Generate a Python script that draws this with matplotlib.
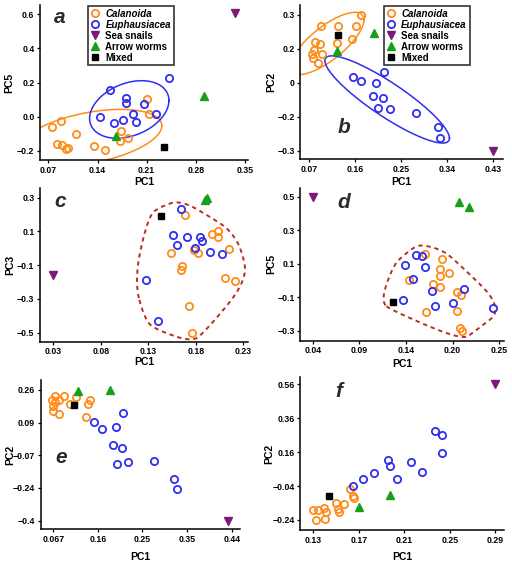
import numpy as np
import matplotlib
matplotlib.use("Agg")
import matplotlib.pyplot as plt
from matplotlib.lines import Line2D

plt.rcParams['font.family'] = ['Liberation Sans', 'DejaVu Sans']
plt.rcParams['font.weight'] = 'bold'
plt.rcParams['axes.labelweight'] = 'bold'

CAL = "#FF8C1A"
EUP = "#2E2EF2"
SNAIL = "#7B1A7B"
WORM = "#17A017"
MIX = "#000000"
RING = "#B5301F"

# ---- panel a : PC1 / PC5 ----
a_cal_x = [0.0747, 0.088, 0.082, 0.089, 0.095, 0.098, 0.110, 0.1355, 0.1507, 0.172, 0.173, 0.183, 0.211, 0.214]
a_cal_y = [-0.059, -0.024, -0.161, -0.167, -0.190, -0.182, -0.102, -0.173, -0.196, -0.141, -0.084, -0.124, 0.104, 0.014]
a_eup_x = [0.158, 0.181, 0.180, 0.143, 0.163, 0.176, 0.190, 0.195, 0.206, 0.223, 0.242]
a_eup_y = [0.157, 0.112, 0.082, -0.004, -0.035, -0.022, 0.016, -0.029, 0.075, 0.014, 0.229]
a_snail_x, a_snail_y = [0.336], [0.608]
a_worm_x, a_worm_y = [0.292, 0.166], [0.124, -0.112]
a_mix_x, a_mix_y = [0.235], [-0.180]

# ---- panel b : PC1 / PC2 ----
b_cal_x = [0.1704, 0.0922, 0.1254, 0.1613, 0.1528, 0.1235, 0.0811, 0.0909, 0.0798, 0.0759, 0.0954, 0.0778, 0.0876]
b_cal_y = [0.300, 0.2528, 0.2528, 0.2528, 0.1939, 0.1776, 0.1791, 0.1717, 0.1452, 0.1260, 0.1275, 0.1084, 0.0862]
b_eup_x = [0.2161, 0.1561, 0.1717, 0.2004, 0.1939, 0.2134, 0.2043, 0.2278, 0.2786, 0.3210, 0.3249]
b_eup_y = [0.0464, 0.0258, 0.0066, -0.0022, -0.0582, -0.0671, -0.1098, -0.1142, -0.1319, -0.1939, -0.2455]
b_snail_x, b_snail_y = [0.430], [-0.300]
b_worm_x, b_worm_y = [0.1241, 0.1965], [0.1423, 0.2189]
b_mix_x, b_mix_y = [0.1254], [0.2130]

# ---- panel c : PC1 / PC3 ----
c_cal_x = [0.1689, 0.2030, 0.1974, 0.2030, 0.2153, 0.1781, 0.1819, 0.1542, 0.1654, 0.1644, 0.2111, 0.2212, 0.1728, 0.1756]
c_cal_y = [0.1973, 0.1044, 0.0827, 0.0689, -0.0062, -0.0101, -0.0259, -0.0279, -0.1049, -0.1286, -0.1780, -0.1938, -0.3420, -0.500]
c_eup_x = [0.1647, 0.1563, 0.1707, 0.1844, 0.1868, 0.1598, 0.1791, 0.1953, 0.2072, 0.1279, 0.1398]
c_eup_y = [0.2328, 0.0788, 0.0649, 0.0689, 0.0432, 0.0195, -0.0002, -0.0200, -0.0338, -0.1879, -0.4309]
c_snail_x, c_snail_y = [0.030], [-0.158]
c_worm_x, c_worm_y = [0.1897, 0.1914], [0.2862, 0.2960]
c_mix_x, c_mix_y = [0.143], [0.193]

# ---- panel d : PC1 / PC5 ----
d_cal_x = [0.1664, 0.1855, 0.1836, 0.1836, 0.1930, 0.1488, 0.1750, 0.1836, 0.2024, 0.2073, 0.1679, 0.2020, 0.2054, 0.2084]
d_cal_y = [0.1557, 0.1259, 0.0662, 0.0264, 0.0443, 0.0005, -0.0234, -0.0373, -0.0672, -0.0890, -0.1885, -0.1846, -0.2861, -0.3040]
d_eup_x = [0.1443, 0.1563, 0.1630, 0.1668, 0.1533, 0.1739, 0.2099, 0.1983, 0.1776, 0.1416, 0.2425]
d_eup_y = [0.0901, 0.1518, 0.1438, 0.0821, 0.0065, -0.0612, -0.0492, -0.1328, -0.1527, -0.1169, -0.1667]
d_snail_x, d_snail_y = [0.040], [0.496]
d_worm_x, d_worm_y = [0.205, 0.2163], [0.466, 0.440]
d_mix_x, d_mix_y = [0.130], [-0.127]

# ---- panel e : PC1 / PC2 ----
e_cal_x = [0.0705, 0.0900, 0.0649, 0.0789, 0.0705, 0.0656, 0.0670, 0.0795, 0.1137, 0.1019, 0.1437, 0.1402, 0.1353]
e_cal_y = [0.2314, 0.2314, 0.2095, 0.2095, 0.1977, 0.1809, 0.1539, 0.1371, 0.2263, 0.1876, 0.2095, 0.1893, 0.1219]
e_eup_x = [0.1521, 0.1681, 0.1974, 0.2134, 0.1911, 0.2099, 0.2009, 0.2239, 0.2776, 0.3201, 0.3250]
e_eup_y = [0.0967, 0.0630, 0.0748, 0.1421, -0.0178, -0.0313, -0.1155, -0.1054, -0.0986, -0.1912, -0.2417]
e_snail_x, e_snail_y = [0.4316], [-0.400]
e_worm_x, e_worm_y = [0.1193, 0.1855], [0.2566, 0.2600]
e_mix_x, e_mix_y = [0.1102], [0.1842]

# ---- panel f : PC1 / PC2 ----
f_cal_x = [0.1294, 0.1338, 0.1323, 0.1391, 0.1411, 0.1405, 0.1499, 0.1520, 0.1529, 0.1573, 0.1625, 0.1652, 0.1660]
f_cal_y = [-0.1810, -0.1810, -0.2400, -0.1673, -0.1909, -0.2361, -0.1417, -0.1751, -0.1948, -0.1476, -0.0552, -0.0965, -0.1122]
f_eup_x = [0.1646, 0.1734, 0.1836, 0.1959, 0.1974, 0.2036, 0.2159, 0.2252, 0.2373, 0.2428, 0.2431]
f_eup_y = [-0.0375, -0.0002, 0.0352, 0.1158, 0.0804, -0.0002, 0.1000, 0.0450, 0.2868, 0.2612, 0.1570]
f_snail_x, f_snail_y = [0.290], [0.560]
f_worm_x, f_worm_y = [0.1704, 0.1974], [-0.1653, -0.0926]
f_mix_x, f_mix_y = [0.1441], [-0.0985]

# ticks (positions and printed labels)
a_xt, a_xl = [0.07, 0.14, 0.21, 0.28, 0.35], ["0.07", "0.14", "0.21", "0.28", "0.35"]
a_yt, a_yl = [0.6, 0.4, 0.2, 0.0, -0.2], ["0.6", "0.4", "0.2", "0.0", "\u22120.2"]
b_xt, b_xl = [0.07, 0.16, 0.25, 0.34, 0.43], ["0.07", "0.16", "0.25", "0.34", "0.43"]
b_yt, b_yl = [0.3, 0.15, 0.0, -0.15, -0.3], ["0.3", "0.2", "0", "\u22120.2", "\u22120.3"]
c_xt, c_xl = [0.03, 0.08, 0.13, 0.18, 0.23], ["0.03", "0.08", "0.13", "0.18", "0.23"]
c_yt, c_yl = [0.3, 0.1, -0.1, -0.3, -0.5], ["0.3", "0.1", "\u22120.1", "\u22120.3", "\u22120.5"]
d_xt, d_xl = [0.04, 0.0925, 0.145, 0.1975, 0.25], ["0.04", "0.09", "0.14", "0.20", "0.25"]
d_yt, d_yl = [0.5, 0.3, 0.1, -0.1, -0.3], ["0.5", "0.3", "0.1", "\u22120.1", "\u22120.3"]
e_xt, e_xl = [0.067, 0.16, 0.253, 0.347, 0.44], ["0.067", "0.16", "0.25", "0.35", "0.44"]
e_yt, e_yl = [0.26, 0.095, -0.07, -0.235, -0.4], ["0.26", "0.09", "\u22120.07", "\u22120.24", "\u22120.4"]
f_xt, f_xl = [0.13, 0.17, 0.21, 0.25, 0.29], ["0.13", "0.17", "0.21", "0.25", "0.29"]
f_yt, f_yl = [0.56, 0.36, 0.16, -0.04, -0.24], ["0.56", "0.36", "0.16", "\u22120.04", "\u22120.24"]

names = ["Calanoida", "Euphausiacea", "Sea snails", "Arrow worms", "Mixed"]


def marker_kw(i):
    if i == 0:
        return dict(marker='o', ms=5.2, mfc='none', mec=CAL, mew=1.3)
    if i == 1:
        return dict(marker='o', ms=5.2, mfc='none', mec=EUP, mew=1.3)
    if i == 2:
        return dict(marker='v', ms=6, color=SNAIL, mec=SNAIL)
    if i == 3:
        return dict(marker='^', ms=6, color=WORM, mec=WORM)
    return dict(marker='s', ms=4.5, color=MIX, mec=MIX)


def hull(p):
    p = sorted(map(tuple, p))
    def cross(o, a, b):
        return (a[0]-o[0])*(b[1]-o[1]) - (a[1]-o[1])*(b[0]-o[0])
    lo, up = [], []
    for q in p:
        while len(lo) >= 2 and cross(lo[-2], lo[-1], q) <= 0:
            lo.pop()
        lo.append(q)
    for q in reversed(p):
        while len(up) >= 2 and cross(up[-2], up[-1], q) <= 0:
            up.pop()
        up.append(q)
    return np.array(lo[:-1] + up[:-1])


def encircle(ax, xs, ys, expand=0.06):
    pts = ax.transAxes.inverted().transform(ax.transData.transform(np.column_stack([xs, ys])))
    h = hull(pts)
    h = hull(np.vstack([h + [expand, 0], h - [expand, 0], h + [0, expand], h - [0, expand]]))
    for _ in range(5):
        nxt = np.roll(h, -1, axis=0)
        h = np.stack([0.75*h + 0.25*nxt, 0.25*h + 0.75*nxt], axis=1).reshape(-1, 2)
    h = np.vstack([h, h[:1]])
    ax.plot(h[:, 0], h[:, 1], transform=ax.transAxes, color=RING, lw=1.4,
            ls=(0, (2.2, 2.0)), clip_on=False, zorder=1)


def cov_trob(X, nu=5, maxit=25, tol=0.01):
    # multivariate-t robust location / scatter (as MASS::cov.trob)
    n, p = X.shape
    loc = X.mean(0)
    w = np.ones(n)
    for _ in range(maxit):
        w0 = w
        Xc = X - loc
        _, d, vt = np.linalg.svd(np.sqrt(w / w.sum())[:, None] * Xc, full_matrices=False)
        Q = ((Xc @ vt.T / d) ** 2).sum(1)
        w = (nu + p) / (nu + Q)
        loc = (w[:, None] * X).sum(0) / w.sum()
        if np.all(np.abs(w - w0) < tol):
            break
    sw = np.sqrt(w)[:, None] * Xc
    return loc, sw.T @ sw / n


def ellipse(ax, xs, ys, color, level=0.9):
    X = np.column_stack([xs, ys])
    loc, cov = cov_trob(X)
    dfd = len(xs) - 1
    fq = dfd / 2.0 * ((1 - level) ** (-2.0 / dfd) - 1)   # F(2, dfd) quantile
    r = np.sqrt(2 * fq)
    L = np.linalg.cholesky(cov)
    t = np.linspace(0, 2*np.pi, 240)
    e = r * (L @ np.vstack([np.cos(t), np.sin(t)]))
    ax.plot(loc[0] + e[0], loc[1] + e[1], color=color, lw=1.1, zorder=1)


def panel(rect, groups, xlim, ylim, xt, xl, yt, yl, ylab, letter, lpos, xlab_y, ylab_x):
    ax = fig.add_axes(rect)
    ax.set_xlim(*xlim)
    ax.set_ylim(*ylim)
    for i, (gx, gy) in enumerate(groups):
        ax.plot(gx, gy, ls='none', zorder=3, **marker_kw(i))
    for s in ['top', 'right']:
        ax.spines[s].set_visible(False)
    for s in ['left', 'bottom']:
        ax.spines[s].set_linewidth(1.1)
    ax.set_xticks(xt)
    ax.set_xticklabels(xl)
    ax.set_yticks(yt)
    ax.set_yticklabels(yl)
    ax.tick_params(labelsize=6.3, length=2.5, width=0.9, pad=1.5)
    ax.set_xlabel("PC1", fontsize=7.5)
    ax.set_ylabel(ylab, fontsize=7.5)
    ax.xaxis.set_label_coords(0.5, xlab_y)
    ax.yaxis.set_label_coords(ylab_x, 0.5)
    ax.text(lpos[0], lpos[1], letter, transform=ax.transAxes, fontsize=15,
            fontweight='bold', fontstyle='italic', color='#2b2b2b', ha='center', va='center')
    return ax


def add_legend(ax, anchor):
    handles = [Line2D([], [], ls='none', label=n, **marker_kw(i)) for i, n in enumerate(names)]
    leg = ax.legend(handles=handles, loc='upper left', bbox_to_anchor=anchor, fontsize=7,
                    frameon=True, fancybox=False, edgecolor='black', borderpad=0.28,
                    labelspacing=0.1, handlelength=0.9, handletextpad=0.6, borderaxespad=0)
    leg.get_frame().set_linewidth(1.2)
    for t in leg.get_texts()[:2]:
        t.set_fontstyle('italic')


fig = plt.figure(figsize=(5.12, 5.68), dpi=100)

ax_a = panel([0.0781, 0.7183, 0.4063, 0.2729],
             [(a_cal_x, a_cal_y), (a_eup_x, a_eup_y), (a_snail_x, a_snail_y), (a_worm_x, a_worm_y), (a_mix_x, a_mix_y)],
             (0.0581, 0.3543), (-0.2543, 0.655), a_xt, a_xl, a_yt, a_yl, "PC5", "a", (0.096, 0.92), -0.11, -0.125)
ellipse(ax_a, a_cal_x, a_cal_y, CAL)
ellipse(ax_a, a_eup_x, a_eup_y, EUP)
add_legend(ax_a, (0.231, 0.9935))

ax_b = panel([0.5865, 0.7195, 0.3959, 0.2717],
             [(b_cal_x, b_cal_y), (b_eup_x, b_eup_y), (b_snail_x, b_snail_y), (b_worm_x, b_worm_y), (b_mix_x, b_mix_y)],
             (0.0524, 0.4489), (-0.3383, 0.3442), b_xt, b_xl, b_yt, b_yl, "PC2", "b", (0.216, 0.203), -0.115, -0.12)
ellipse(ax_b, b_cal_x, b_cal_y, CAL)
ellipse(ax_b, b_eup_x, b_eup_y, EUP)
add_legend(ax_b, (0.413, 0.9935))

ax_c = panel([0.0781, 0.3984, 0.4063, 0.2706],
             [(c_cal_x, c_cal_y), (c_eup_x, c_eup_y), (c_snail_x, c_snail_y), (c_worm_x, c_worm_y), (c_mix_x, c_mix_y)],
             (0.016, 0.2349), (-0.5533, 0.3575), c_xt, c_xl, c_yt, c_yl, "PC3", "c", (0.096, 0.909), -0.10, -0.12)
encircle(ax_c, c_cal_x + c_eup_x + c_mix_x, c_cal_y + c_eup_y + c_mix_y)

ax_d = panel([0.5865, 0.4002, 0.3979, 0.2688],
             [(d_cal_x, d_cal_y), (d_eup_x, d_eup_y), (d_snail_x, d_snail_y), (d_worm_x, d_worm_y), (d_mix_x, d_mix_y)],
             (0.026, 0.2553), (-0.3597, 0.552), d_xt, d_xl, d_yt, d_yl, "PC5", "d", (0.215, 0.908), -0.12, -0.12)
encircle(ax_d, d_cal_x + d_eup_x + d_mix_x, d_cal_y + d_eup_y + d_mix_y)

ax_e = panel([0.0795, 0.0681, 0.3893, 0.2629],
             [(e_cal_x, e_cal_y), (e_eup_x, e_eup_y), (e_snail_x, e_snail_y), (e_worm_x, e_worm_y), (e_mix_x, e_mix_y)],
             (0.0406, 0.4574), (-0.4438, 0.3105), e_xt, e_xl, e_yt, e_yl, "PC2", "e", (0.102, 0.478), -0.152, -0.129)

ax_f = panel([0.5865, 0.0669, 0.3984, 0.2694],
             [(f_cal_x, f_cal_y), (f_eup_x, f_eup_y), (f_snail_x, f_snail_y), (f_worm_x, f_worm_y), (f_mix_x, f_mix_y)],
             (0.1186, 0.2979), (-0.299, 0.603), f_xt, f_xl, f_yt, f_yl, "PC2", "f", (0.19, 0.902), -0.144, -0.13)

fig.savefig("out.png", dpi=100)
